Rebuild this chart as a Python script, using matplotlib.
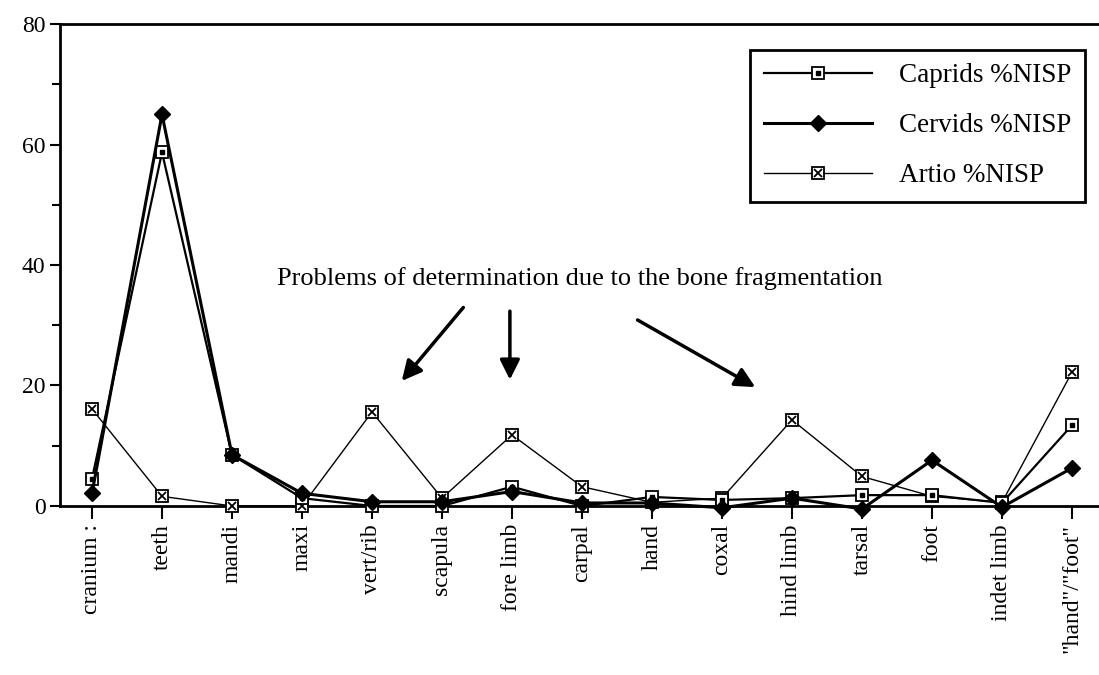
import numpy as np
import matplotlib.pyplot as plt

plt.rcParams['font.family'] = ['Liberation Serif', 'DejaVu Serif']

# skeletal parts
parts = ['cranium :', 'teeth', 'mandi', 'maxi', 'vert/rib', 'scapula', 'fore limb',
         'carpal', 'hand', 'coxal', 'hind limb', 'tarsal', 'foot', 'indet limb',
         '"hand"/"foot"']

caprids = [4.5, 58.7, 8.5, 1.3, 0.0, 0.0, 3.2, 0.0, 1.5, 1.0, 1.3, 1.8, 1.8, 0.5, 13.4]
cervids = [2.1, 65.0, 8.5, 2.1, 0.7, 0.7, 2.4, 0.5, 0.5, -0.3, 1.3, -0.5, 7.6, -0.2, 6.3]
artio = [16.1, 1.6, 0.0, 0.0, 15.6, 1.3, 11.8, 3.2, 0.6, 1.3, 14.3, 4.9, 1.6, 0.6, 22.2]

note = 'Problems of determination due to the bone fragmentation'

x = np.arange(len(parts))

fig = plt.figure(figsize=(10.99, 6.75), dpi=100)
ax = fig.add_axes([0.0546, 0.2504, 0.9454, 0.714])

# Artio: thin line, square with a cross inside
art_line, = ax.plot(x, artio, color='black', lw=1.0, marker='s', ms=9, mfc='white',
                    mec='black', mew=1.3, clip_on=False, zorder=3)
art_in, = ax.plot(x, artio, ls='none', marker='x', ms=6, mec='black', mew=1.3,
                  clip_on=False, zorder=4)

# Caprids: open square with dot
cap_line, = ax.plot(x, caprids, color='black', lw=1.6, marker='s', ms=9, mfc='white',
                    mec='black', mew=1.3, clip_on=False, zorder=5)
cap_in, = ax.plot(x, caprids, ls='none', marker='s', ms=2.5, mfc='black', mec='black',
                  clip_on=False, zorder=6)

# Cervids: filled marker, heavy line
cer_line, = ax.plot(x, cervids, color='black', lw=2.2, marker='D', ms=8, mfc='black',
                    mec='black', clip_on=False, zorder=7)

ax.set_xlim(-0.457, 14.386)
ax.set_ylim(0, 80)
ax.set_yticks([0, 20, 40, 60, 80])
ax.set_yticks([10, 30, 50, 70], minor=True)
ax.set_xticks(x)
ax.set_xticklabels(parts, rotation=90, fontsize=17)
ax.tick_params(axis='y', labelsize=17, width=1.5, length=7, direction='out')
ax.tick_params(axis='y', which='minor', width=1.5, length=6)
ax.tick_params(axis='x', width=1.5, length=9, direction='out', pad=4)

ax.spines['right'].set_visible(False)
for s in ['left', 'bottom', 'top']:
    ax.spines[s].set_linewidth(2)

ax.text(6.97, 37.7, note, ha='center', va='center', fontsize=19)
arrows = [((5.33, 33.3), (4.4, 20.4)),
          ((5.97, 32.8), (5.97, 20.5)),
          ((7.76, 31.1), (9.51, 19.5))]
for start, end in arrows:
    ax.annotate('', xy=end, xytext=start,
                arrowprops=dict(arrowstyle='-|>', color='black', lw=2.5,
                                mutation_scale=30))

leg = ax.legend([(cap_line, cap_in), cer_line, (art_line, art_in)],
                ['Caprids %NISP', 'Cervids %NISP', 'Artio %NISP'],
                loc='upper right', bbox_to_anchor=(0.9865, 0.9468), fontsize=19.5,
                frameon=True, fancybox=False, edgecolor='black', handlelength=4,
                handletextpad=1.0, borderpad=0.5, labelspacing=0.92,
                borderaxespad=0)
leg.get_frame().set_linewidth(2)
leg.get_frame().set_alpha(1)

fig.savefig('out.png', dpi=100, facecolor='white')
